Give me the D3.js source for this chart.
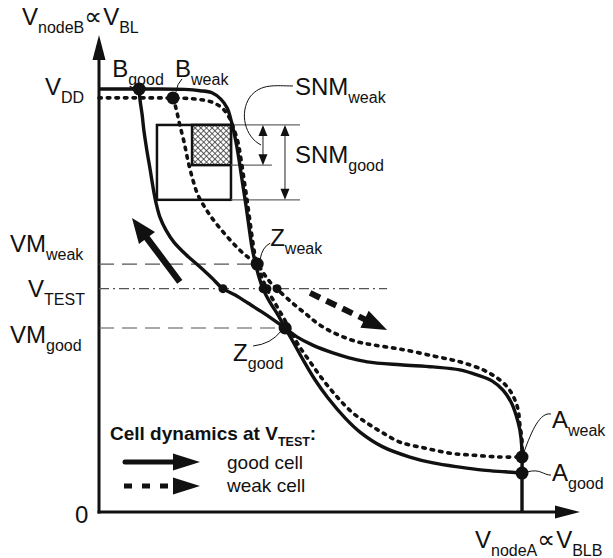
<!DOCTYPE html>
<html><head><meta charset="utf-8">
<script src="https://cdn.jsdelivr.net/npm/d3@7"></script>
<style>
html,body{margin:0;padding:0;background:#fff;}
svg{display:block;font-family:"Liberation Sans",Arial,"DejaVu Sans",sans-serif;}
.prop{font-family:"DejaVu Sans",sans-serif;}
</style></head><body>
<svg id="chart" width="613" height="558"></svg>
<script>
// Butterfly curves of an SRAM cell, voltages normalised to VDD.
// VTC1: nodeB as a function of nodeA; VTC2: mirrored transfer curve of the other inverter.
const goodVTC1 = [[0,1],[0.121,1],[0.203,0.999],[0.239,0.996],[0.267,0.991],[0.288,0.976],[0.303,0.955],[0.312,0.927],[0.319,0.898],[0.326,0.863],[0.333,0.820],[0.340,0.773],[0.348,0.721],[0.355,0.671],[0.362,0.624],[0.369,0.591],[0.378,0.556],[0.388,0.527],[0.404,0.496],[0.423,0.466],[0.440,0.435],[0.459,0.402],[0.480,0.364],[0.511,0.312],[0.541,0.270],[0.582,0.222],[0.617,0.189],[0.671,0.154],[0.735,0.130],[0.790,0.116],[0.853,0.106],[0.908,0.099],[0.960,0.095],[1,0.092]];
const weakVTC1 = [[0,0.979],[0.121,0.979],[0.203,0.978],[0.239,0.975],[0.267,0.969],[0.291,0.955],[0.307,0.934],[0.319,0.905],[0.329,0.872],[0.336,0.832],[0.343,0.785],[0.350,0.738],[0.357,0.686],[0.364,0.636],[0.371,0.596],[0.383,0.560],[0.397,0.527],[0.416,0.494],[0.435,0.461],[0.452,0.430],[0.470,0.397],[0.499,0.355],[0.530,0.312],[0.563,0.272],[0.598,0.236],[0.634,0.210],[0.671,0.187],[0.712,0.165],[0.771,0.151],[0.830,0.139],[0.889,0.134],[0.948,0.130],[1,0.130]];
const goodVTC2 = [[0.095,1],[0.097,0.974],[0.102,0.939],[0.106,0.903],[0.113,0.856],[0.121,0.809],[0.128,0.766],[0.135,0.730],[0.144,0.697],[0.158,0.667],[0.177,0.638],[0.206,0.608],[0.239,0.579],[0.267,0.553],[0.293,0.528],[0.322,0.513],[0.352,0.494],[0.385,0.473],[0.416,0.452],[0.440,0.435],[0.468,0.414],[0.504,0.395],[0.553,0.376],[0.593,0.364],[0.634,0.355],[0.712,0.348],[0.790,0.343],[0.853,0.336],[0.894,0.324],[0.929,0.310],[0.955,0.288],[0.974,0.260],[0.986,0.229],[0.995,0.194],[1,0.147],[1,0.092],[1,0]];
const weakVTC2 = [[0.175,0.979],[0.180,0.962],[0.184,0.946],[0.191,0.915],[0.201,0.875],[0.210,0.832],[0.222,0.785],[0.234,0.749],[0.251,0.719],[0.267,0.695],[0.286,0.671],[0.310,0.643],[0.333,0.619],[0.355,0.600],[0.374,0.586],[0.390,0.563],[0.404,0.544],[0.421,0.527],[0.444,0.506],[0.468,0.485],[0.492,0.466],[0.515,0.447],[0.546,0.428],[0.577,0.414],[0.612,0.402],[0.648,0.395],[0.712,0.385],[0.790,0.369],[0.853,0.355],[0.908,0.336],[0.941,0.317],[0.965,0.296],[0.981,0.270],[0.991,0.241],[0.995,0.206],[1,0.170],[1,0.130]];

// Stable / switching points
const pointNames = ["Bgood","Bweak","Zweak","Zgood","Aweak","Agood"];
const pointX = [0.095, 0.175, 0.374, 0.440, 1.000, 1.000];
const pointY = [1.000, 0.979, 0.586, 0.435, 0.130, 0.092];

// Reference levels
const vmWeak = 0.586, vmGood = 0.435, vTest = 0.528;
const vTestEnd = 0.681;
const vTestCrossings = [0.293, 0.388, 0.397, 0.421];

// Noise margin squares [x0, y0, x1, y1]
const snmGoodBox = [0.137, 0.738, 0.312, 0.915];
const snmWeakBox = [0.220, 0.820, 0.312, 0.915];

// Cell dynamics at VTEST: [start, tip]
const goodArrow = [[0.191, 0.544], [0.078, 0.695]];
const weakArrow = [[0.499, 0.518], [0.681, 0.430]];

const svg = d3.select("#chart");
const x = d3.scaleLinear().domain([0, 1]).range([99, 522]);
const y = d3.scaleLinear().domain([0, 1]).range([512, 89]);
const ink = "#111";

// cross-hatch fill
const defs = svg.append("defs");
const pat = defs.append("pattern").attr("id", "hatch").attr("patternUnits", "userSpaceOnUse")
  .attr("width", 4).attr("height", 4).attr("patternTransform", "rotate(45)");
pat.append("rect").attr("width", 4).attr("height", 4).attr("fill", "#fff");
pat.append("path").attr("d", "M0,0H4M0,0V4").attr("stroke", "#222").attr("stroke-width", 1.3);

// ---- axes ----
const axisG = svg.append("g");
axisG.append("line").attr("x1", x(0)).attr("x2", x(0)).attr("y1", y(0) + 1.5).attr("y2", 55)
  .attr("stroke", ink).attr("stroke-width", 3);
axisG.append("path").attr("d", `M${x(0)},35L${x(0) - 6.5},60L${x(0) + 6.5},60Z`).attr("fill", ink);
axisG.append("line").attr("x1", x(0) - 1.5).attr("x2", 558).attr("y1", y(0)).attr("y2", y(0))
  .attr("stroke", ink).attr("stroke-width", 3);
axisG.append("path").attr("d", `M580,${y(0)}L555,${y(0) - 6.5}L555,${y(0) + 6.5}Z`).attr("fill", ink);

// ---- reference levels ----
const refG = svg.append("g").attr("stroke", "#555").attr("stroke-width", 1.2).attr("fill", "none");
refG.append("line").attr("x1", x(0)).attr("x2", x(pointX[2])).attr("y1", y(vmWeak)).attr("y2", y(vmWeak))
  .attr("stroke-dasharray", "15,8");
refG.append("line").attr("x1", x(0)).attr("x2", x(pointX[3])).attr("y1", y(vmGood)).attr("y2", y(vmGood))
  .attr("stroke-dasharray", "15,8");
refG.append("line").attr("x1", x(0)).attr("x2", x(vTestEnd)).attr("y1", y(vTest)).attr("y2", y(vTest))
  .attr("stroke-dasharray", "10,4,2,4");

// ---- SNM squares ----
function boxRect(b, fill) {
  svg.append("rect").attr("x", x(b[0])).attr("y", y(b[3]))
    .attr("width", x(b[2]) - x(b[0])).attr("height", y(b[1]) - y(b[3]))
    .attr("fill", fill).attr("stroke", ink).attr("stroke-width", 2.5);
}
boxRect(snmGoodBox, "none");
boxRect(snmWeakBox, "url(#hatch)");

// extension lines and dimension arrows
const bx = x(snmGoodBox[2]);
const dimG = svg.append("g");
[[y(snmGoodBox[3]), 69], [y(snmWeakBox[1]), 41], [y(snmGoodBox[1]), 69]].forEach(([yy, len]) => {
  dimG.append("line").attr("x1", bx).attr("x2", bx + len).attr("y1", yy).attr("y2", yy)
    .attr("stroke", "#666").attr("stroke-width", 1.2);
});
function dimArrow(xx, y1, y2) {
  dimG.append("line").attr("x1", xx).attr("x2", xx).attr("y1", y1 + 8).attr("y2", y2 - 8)
    .attr("stroke", "#555").attr("stroke-width", 1.3);
  dimG.append("path").attr("d", `M${xx},${y1}L${xx - 4.5},${y1 + 11}L${xx + 4.5},${y1 + 11}Z`).attr("fill", ink);
  dimG.append("path").attr("d", `M${xx},${y2}L${xx - 4.5},${y2 - 11}L${xx + 4.5},${y2 - 11}Z`).attr("fill", ink);
}
dimArrow(bx + 32, y(snmWeakBox[3]), y(snmWeakBox[1]));
dimArrow(bx + 54, y(snmGoodBox[3]), y(snmGoodBox[1]));

// ---- curves ----
const line = d3.line().x(d => x(d[0])).y(d => y(d[1])).curve(d3.curveCatmullRom.alpha(0.5));
const curveG = svg.append("g").attr("fill", "none").attr("stroke", ink);
[goodVTC1, goodVTC2].forEach(c => curveG.append("path").attr("d", line(c))
  .attr("stroke-width", 3.4).attr("stroke-linejoin", "round"));
[weakVTC1, weakVTC2].forEach(c => curveG.append("path").attr("d", line(c))
  .attr("stroke-width", 3.6).attr("stroke-dasharray", "2.5,6").attr("stroke-linecap", "round"));

// ---- big dynamics arrows ----
function bigArrow(a, dashed, width, headLen, headW) {
  const s = [x(a[0][0]), y(a[0][1])], t = [x(a[1][0]), y(a[1][1])];
  const dx = t[0] - s[0], dy = t[1] - s[1], L = Math.hypot(dx, dy);
  const u = [dx / L, dy / L], n = [-u[1], u[0]];
  const b = [t[0] - u[0] * headLen, t[1] - u[1] * headLen];
  const sh = svg.append("line").attr("x1", s[0]).attr("y1", s[1])
    .attr("x2", b[0] + u[0] * 2).attr("y2", b[1] + u[1] * 2)
    .attr("stroke", ink).attr("stroke-width", width);
  if (dashed) sh.attr("stroke-dasharray", "11,7");
  svg.append("path").attr("d", `M${t[0]},${t[1]}L${b[0] + n[0] * headW / 2},${b[1] + n[1] * headW / 2}L${b[0] - n[0] * headW / 2},${b[1] - n[1] * headW / 2}Z`)
    .attr("fill", ink);
}
bigArrow(goodArrow, false, 6.5, 25, 20);
bigArrow(weakArrow, true, 6, 25, 19);

// ---- points ----
const dotG = svg.append("g").attr("fill", ink);
pointX.forEach((px, i) => dotG.append("circle").attr("cx", x(px)).attr("cy", y(pointY[i])).attr("r", 6.5));
vTestCrossings.forEach(px => dotG.append("circle").attr("cx", x(px)).attr("cy", y(vTest)).attr("r", 4.5));

// ---- text ----
function rich(px, py, parts, weight) {
  const t = svg.append("text").attr("x", px).attr("y", py).attr("fill", ink)
    .attr("font-weight", weight || "normal");
  parts.forEach(([s, size, dy, dx, cls]) => {
    const ts = t.append("tspan").text(s).attr("font-size", size)
      .attr("dy", dy || 0).attr("dx", dx || 0);
    if (cls) ts.attr("class", cls);
  });
  return t;
}
const M = 24, S = 16;
const P = i => [x(pointX[i]), y(pointY[i])];

rich(22, 25, [["V", M], ["nodeB", S, 8], ["\u221D", 25, -8, 0, "prop"], ["V", M, 0, 1], ["BL", S, 8]]);
rich(475, 548, [["V", M], ["nodeA", S, 8], ["\u221D", 25, -8, 0, "prop"], ["V", M, 0, 1], ["BLB", S, 8]]);
rich(45, y(1) + 6, [["V", M], ["DD", S, 8]]);
rich(75, 523, [["0", M]]);
rich(10, y(vmWeak) - 12, [["VM", M], ["weak", S, 8]]);
rich(28, y(vTest) + 8, [["V", M], ["TEST", S, 8]]);
rich(10, y(vmGood) + 15, [["VM", M], ["good", S, 8]]);

let p = P(0); rich(p[0] - 27, p[1] - 12, [["B", M], ["good", S, 8]]);
p = P(1); rich(p[0] + 2, p[1] - 21, [["B", M], ["weak", S, 8]]);
p = P(2); rich(p[0] + 13, p[1] - 18, [["Z", M], ["weak", S, 8]]);
p = P(3); rich(p[0] - 52, p[1] + 33, [["Z", M], ["good", S, 8]]);
p = P(4); rich(p[0] + 30, p[1] - 29, [["A", M], ["weak", S, 8]]);
p = P(5); rich(p[0] + 30, p[1] + 8, [["A", M], ["good", S, 8]]);
const by = y(snmGoodBox[3]);
rich(bx + 64, by - 30, [["SNM", M], ["weak", S, 8]]);
rich(bx + 64, by + 38, [["SNM", M], ["good", S, 8]]);

// leader lines
const leadG = svg.append("g").attr("fill", "none").attr("stroke", ink).attr("stroke-width", 1);
p = P(1); leadG.append("path").attr("d", `M${p[0] + 9},${p[1] - 19}Q${p[0] + 4},${p[1] - 14} ${p[0] + 3},${p[1] - 6}`);
p = P(2); leadG.append("path").attr("d", `M${p[0] + 13},${p[1] - 21}Q${p[0] + 5},${p[1] - 17} ${p[0] + 3},${p[1] - 5}`);
p = P(3); leadG.append("path").attr("d", `M${p[0] - 32},${p[1] + 18}Q${p[0] - 14},${p[1] + 16} ${p[0] - 4},${p[1] + 3}`);
p = P(4); leadG.append("path").attr("d", `M${p[0] + 29},${p[1] - 43}C${p[0] + 18},${p[1] - 45} ${p[0] + 10},${p[1] - 27} ${p[0] + 2},${p[1] - 5}`);
p = P(5); leadG.append("path").attr("d", `M${p[0] + 29},${p[1] + 2}C${p[0] + 21},${p[1] + 2} ${p[0] + 18},${p[1] - 5} ${p[0] + 5},${p[1] - 1}`);
leadG.append("path").attr("d", `M${bx + 62},${by - 39}C${bx + 45},${by - 39} ${bx + 30},${by - 42} ${bx + 19},${by - 28}C${bx + 8},${by - 12} ${bx + 14},${by + 12} ${bx + 30},${by + 20}`);

// ---- legend ----
const lg = svg.append("g");
rich(110, 440, [["Cell dynamics at V", 19], ["TEST", 12.5, 6], [":", 19, -6]], "bold");
lg.append("line").attr("x1", 125).attr("x2", 176).attr("y1", 462).attr("y2", 462)
  .attr("stroke", ink).attr("stroke-width", 5).attr("stroke-linecap", "round");
lg.append("path").attr("d", "M200,462L173,453.5L173,470.5Z").attr("fill", ink);
lg.append("line").attr("x1", 124).attr("x2", 176).attr("y1", 486).attr("y2", 486)
  .attr("stroke", ink).attr("stroke-width", 5).attr("stroke-dasharray", "8,10");
lg.append("path").attr("d", "M200,486L173,477.5L173,494.5Z").attr("fill", ink);
rich(227, 469, [["good cell", 19]]);
rich(227, 492, [["weak cell", 19]]);
</script>
</body></html>
